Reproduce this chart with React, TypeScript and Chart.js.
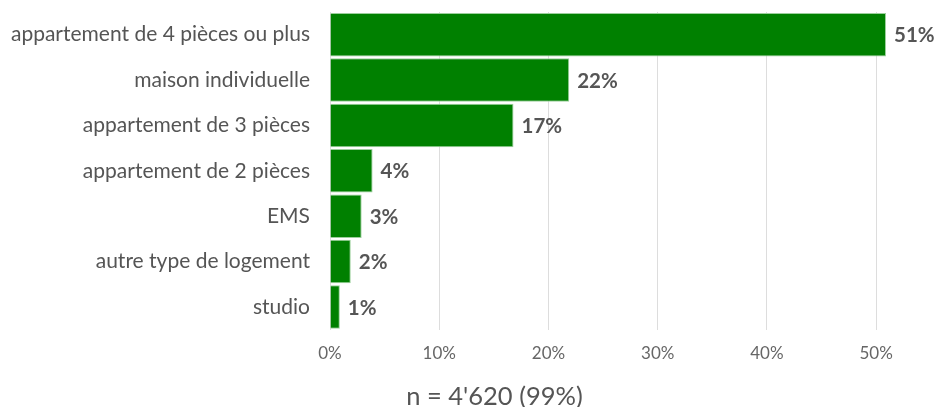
import React, { useEffect, useRef } from "react";
import { Chart, registerables } from "chart.js";

Chart.register(...registerables);

const categories = [
  "appartement de 4 pièces ou plus",
  "maison individuelle",
  "appartement de 3 pièces",
  "appartement de 2 pièces",
  "EMS",
  "autre type de logement",
  "studio",
];
const shares = [50.9, 21.9, 16.8, 3.9, 2.9, 1.9, 0.9];
const shareLabels = ["51%", "22%", "17%", "4%", "3%", "2%", "1%"];
const tickValues = [0, 10, 20, 30, 40, 50];
const footnote = "n = 4'620 (99%)";

const FONT = "Lato, 'Noto Sans', sans-serif";

const valueLabelPlugin = {
  id: "valueLabels",
  afterDatasetsDraw(chart: any) {
    const ctx = chart.ctx;
    const meta = chart.getDatasetMeta(0);
    ctx.save();
    ctx.font = `bold 20.5px ${FONT}`;
    ctx.fillStyle = "#555555";
    ctx.textAlign = "left";
    ctx.textBaseline = "middle";
    meta.data.forEach((bar: any, i: number) => {
      ctx.fillText(shareLabels[i], bar.x + 8, bar.y + 1);
    });
    ctx.restore();
  },
};

const footnotePlugin = {
  id: "footnote",
  afterDraw(chart: any) {
    const ctx = chart.ctx;
    ctx.save();
    ctx.font = `25.5px ${FONT}`;
    ctx.fillStyle = "#555555";
    ctx.textAlign = "center";
    ctx.textBaseline = "middle";
    ctx.fillText(footnote, chart.width / 2 + 27, chart.height - 10);
    ctx.restore();
  },
};

export default function App() {
  const ref = useRef<HTMLCanvasElement | null>(null);
  useEffect(() => {
    if (!ref.current) return;
    const chart = new Chart(ref.current, {
      type: "bar",
      data: {
        labels: categories,
        datasets: [
          {
            data: shares,
            backgroundColor: "#008000",
            borderColor: "#9ccf9c",
            borderWidth: 1,
            barPercentage: 0.96,
            categoryPercentage: 1,
          },
        ],
      },
      options: {
        indexAxis: "y",
        animation: false,
        responsive: true,
        maintainAspectRatio: false,
        layout: { padding: { left: 0, right: 49, top: 12, bottom: 29 } },
        plugins: {
          legend: { display: false },
          tooltip: { enabled: false },
          title: { display: false },
        },
        scales: {
          x: {
            min: 0,
            max: Math.max(...shares),
            afterBuildTicks(scale: any) {
              scale.ticks = tickValues.map((v) => ({ value: v }));
            },
            grid: { color: "#dddddd", drawTicks: false, lineWidth: 1 },
            border: { display: false },
            ticks: {
              color: "#666666",
              font: { family: FONT, size: 17 },
              padding: 14,
              callback: (v: any) => `${v}%`,
            },
          },
          y: {
            grid: { display: false, drawTicks: false },
            border: { display: false },
            afterFit(scale: any) {
              scale.width = 330;
              scale.paddingTop = 0;
              scale.paddingBottom = 0;
            },
            ticks: {
              color: "#555555",
              font: { family: FONT, size: 21 },
              padding: 20,
            },
          },
        },
      },
      plugins: [valueLabelPlugin, footnotePlugin],
    });
    return () => chart.destroy();
  }, []);
  return (
    <div style={{ position: "fixed", left: 0, top: 0, width: 935, height: 407 }}>
      <canvas ref={ref} />
    </div>
  );
}
